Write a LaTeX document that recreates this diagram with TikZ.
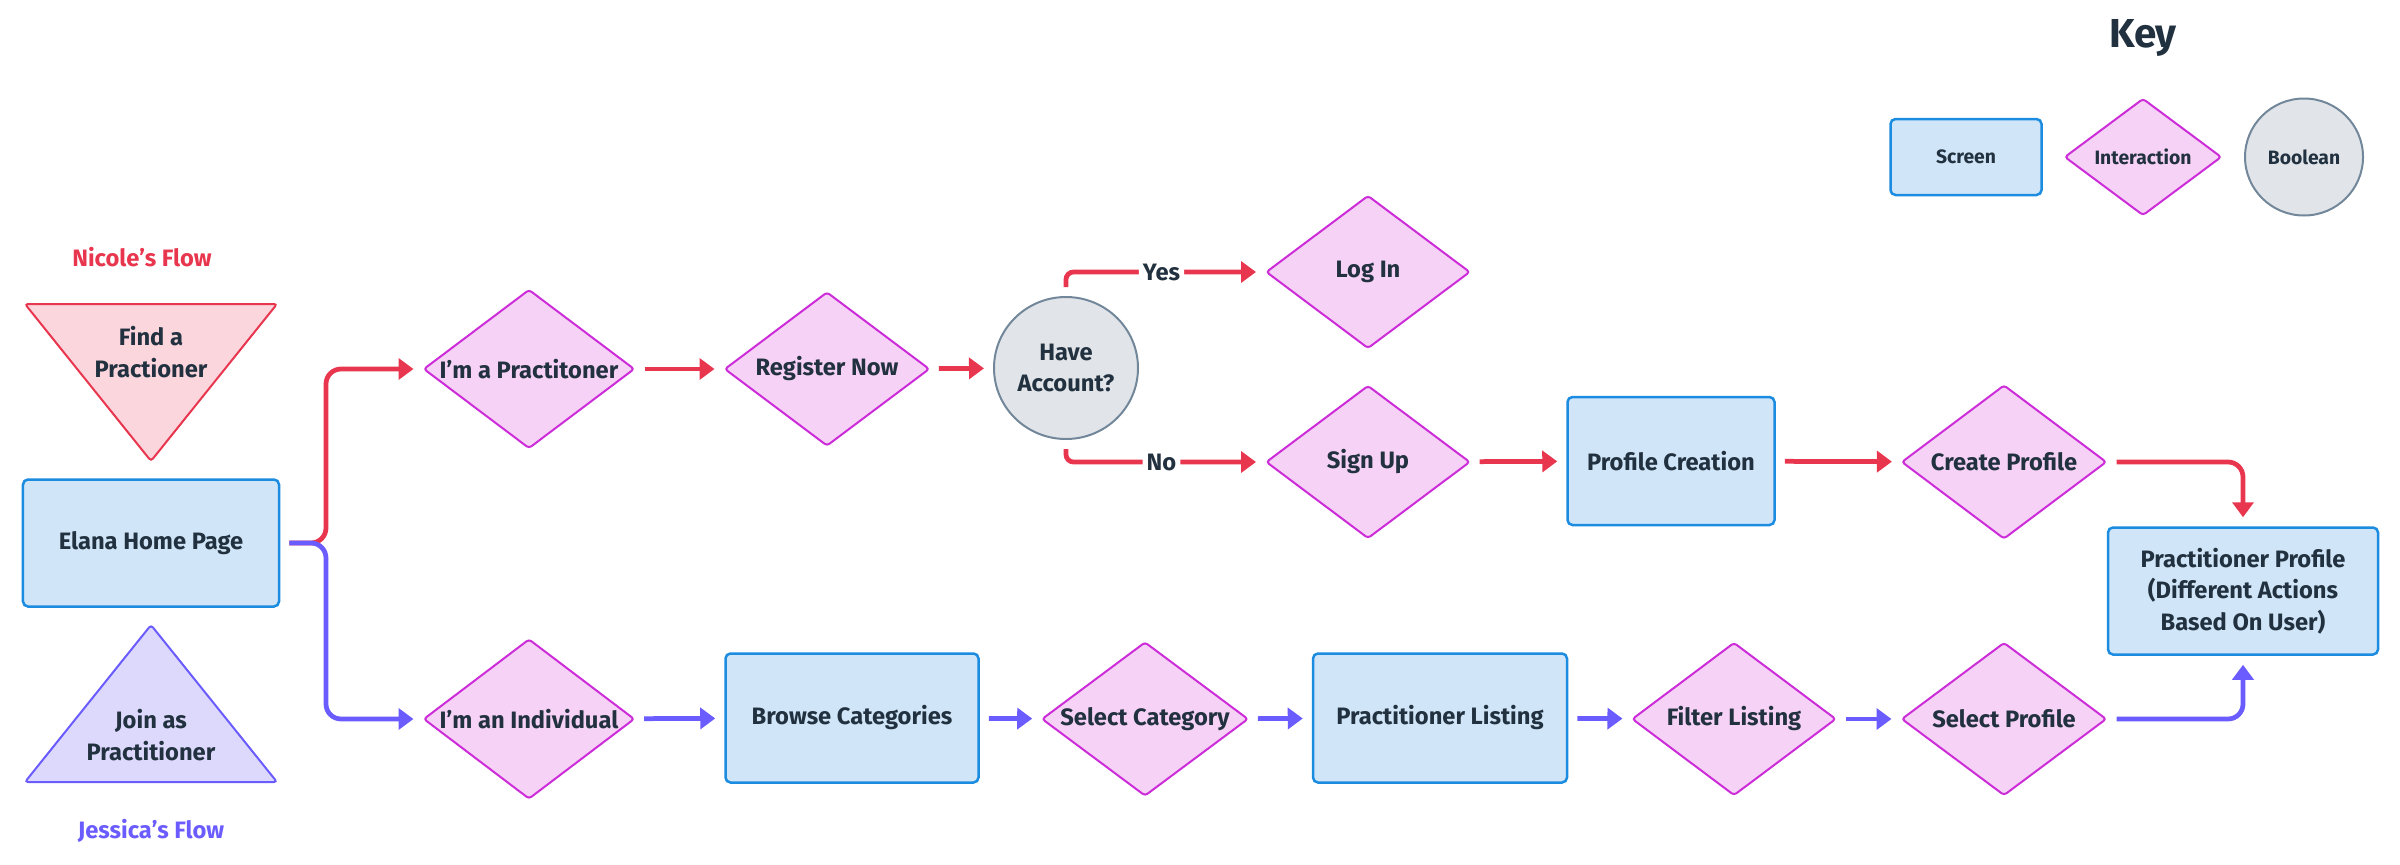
\documentclass[tikz,border=0pt]{standalone}
\usepackage{fontspec}
\setmainfont{Fira Sans}
\usepackage{tikz}
\usetikzlibrary{arrows.meta,shapes.geometric,calc}
\definecolor{FlowInk}{HTML}{22313F}
\definecolor{FlowRed}{HTML}{E8364F}
\definecolor{FlowViolet}{HTML}{6A5CFF}
\definecolor{FlowRose}{HTML}{FCD6DD}
\definecolor{FlowLilac}{HTML}{DDD9FC}
\definecolor{FlowScreen}{HTML}{D0E6F8}
\definecolor{FlowScreenLine}{HTML}{1B8CE0}
\definecolor{FlowPink}{HTML}{F6D3F6}
\definecolor{FlowPinkLine}{HTML}{CC2DD9}
\definecolor{FlowGrey}{HTML}{E1E5E9}
\definecolor{FlowGreyLine}{HTML}{72879A}

\tikzset{
  every node/.style={font=\bfseries\fontsize{13.5}{18}\selectfont, text=FlowInk},
  screen/.style={draw=FlowScreenLine, fill=FlowScreen, line width=0.5mm, rounded corners=1mm, align=center, inner sep=0pt},
  interaction/.style={diamond, draw=FlowPinkLine, fill=FlowPink, line width=0.4mm, rounded corners=0.6mm, shape aspect=1.6, inner sep=0pt, align=center},
  boolean/.style={ellipse, draw=FlowGreyLine, fill=FlowGrey, line width=0.4mm, inner sep=0pt, align=center},
  keytext/.style={font=\bfseries\fontsize{11}{13}\selectfont},
  redflow/.style={line width=0.95mm, color=FlowRed, -{Triangle[length=3mm,width=4.2mm]}, shorten <=1.8mm, shorten >=1.8mm, rounded corners=3mm},
  violetflow/.style={redflow, color=FlowViolet},
  answer/.style={fill=white, inner sep=0.8mm}
}

\begin{document}
\begin{tikzpicture}[x=0.2mm,y=-0.2mm]
  \useasboundingbox (0,0) rectangle (2400,864);

  % key
  \node[font=\bfseries\fontsize{23}{26}\selectfont] (keytitle) at (2143,38) {Key};
  \node[screen, keytext, minimum width=30.2mm, minimum height=15.2mm] (keyscreen) at (1966,157) {Screen};
  \node[interaction, keytext, minimum width=31.4mm, minimum height=23.4mm] (keyinter) at (2143,157) {Interaction};
  \node[boolean, keytext, minimum width=23.6mm, minimum height=23.4mm] (keybool) at (2304,157) {Boolean};

  % entry points
  \node[text=FlowRed] (nicole) at (142,257) {Nicole's Flow};
  \draw[line width=0.4mm, draw=FlowRed, fill=FlowRose, rounded corners=0.6mm] (25,304) -- (277,304) -- (151,461) -- cycle;
  \node[align=center] (find) at (151,352) {Find a\\Practioner};

  \node[screen, minimum width=51.2mm, minimum height=25.4mm] (elana) at (151,543) {Elana Home Page};

  \draw[line width=0.4mm, draw=FlowViolet, fill=FlowLilac, rounded corners=0.6mm] (25,782) -- (277,782) -- (151,625) -- cycle;
  \node[align=center] (join) at (151,735) {Join as\\Practitioner};
  \node[text=FlowViolet] (jessica) at (151,831) {Jessica's Flow};

  % practitioner row
  \node[interaction, minimum width=42.2mm, minimum height=31.8mm] (iprac) at (529,369) {I'm a Practitoner};
  \node[interaction, minimum width=41mm, minimum height=30.8mm] (register) at (827,369) {Register Now};
  \node[boolean, minimum width=28.8mm, minimum height=28.4mm] (account) at (1066,368) {Have\\Account?};
  \node[interaction, minimum width=40.8mm, minimum height=30.6mm] (login) at (1368,272) {Log In};
  \node[interaction, minimum width=40.8mm, minimum height=30.6mm] (signup) at (1368,462) {Sign Up};
  \node[screen, minimum width=41.4mm, minimum height=25.6mm] (profcreate) at (1671,461) {Profile Creation};
  \node[interaction, minimum width=41mm, minimum height=30.8mm] (createprof) at (2004,462) {Create Profile};
  \node[screen, minimum width=54mm, minimum height=25.4mm] (pracprofile) at (2243,591) {Practitioner Profile\\(Different Actions\\Based On User)};

  % individual row
  \node[interaction, minimum width=42.2mm, minimum height=32mm] (individual) at (529,719) {I'm an Individual};
  \node[screen, minimum width=50.6mm, minimum height=25.8mm] (browse) at (852,718) {Browse Categories};
  \node[interaction, minimum width=40mm, minimum height=30.8mm] (selcat) at (1145,719) {Select Category};
  \node[screen, minimum width=50.8mm, minimum height=25.8mm] (listing) at (1440,718) {Practitioner Listing};
  \node[interaction, minimum width=40.8mm, minimum height=30.6mm] (filter) at (1734,719) {Filter Listing};
  \node[interaction, minimum width=41mm, minimum height=30.6mm] (selprof) at (2004,719) {Select Profile};

  \coordinate (fork) at (326,543);

  % Nicole
  \draw[redflow] (elana.east) -- (fork) |- (iprac.west);
  \draw[redflow] (iprac) -- (register);
  \draw[redflow] (register) -- (account);
  \draw[redflow, rounded corners=1.5mm] (account.north) |- node[answer, pos=0.74] {Yes} (login.west);
  \draw[redflow, rounded corners=1.5mm] (account.south) |- node[answer, pos=0.74] {No} (signup.west);
  \draw[redflow] (signup) -- (profcreate);
  \draw[redflow] (profcreate) -- (createprof);
  \draw[redflow] (createprof.east) -| (pracprofile.north);

  % Jessica
  \draw[violetflow] (elana.east) -- (fork) |- (individual.west);
  \draw[violetflow] (individual) -- (browse);
  \draw[violetflow] (browse) -- (selcat);
  \draw[violetflow] (selcat) -- (listing);
  \draw[violetflow] (listing) -- (filter);
  \draw[violetflow] (filter) -- (selprof);
  \draw[violetflow] (selprof.east) -| (pracprofile.south);
\end{tikzpicture}
\end{document}
